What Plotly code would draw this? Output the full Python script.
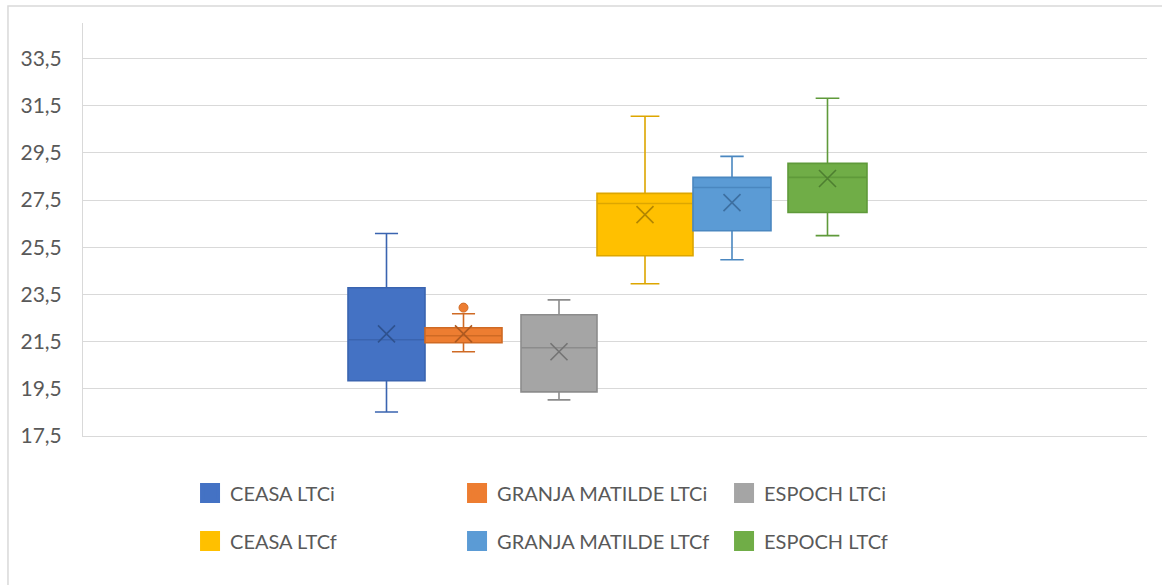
import plotly.graph_objects as go

# Five-number summaries (plus mean) for each site / measurement
series_names = [
    "CEASA LTCi", "GRANJA MATILDE LTCi", "ESPOCH LTCi",
    "CEASA LTCf", "GRANJA MATILDE LTCf", "ESPOCH LTCf",
]
lower_whisker = [18.52, 21.07, 19.03, 23.95, 24.97, 25.99]
q1_values = [19.84, 21.45, 19.37, 25.14, 26.20, 26.97]
median_values = [21.58, 21.75, 21.24, 27.35, 28.03, 28.46]
q3_values = [23.78, 22.09, 22.64, 27.78, 28.46, 29.05]
upper_whisker = [26.08, 22.68, 23.27, 31.05, 29.35, 31.81]
mean_values = [21.83, 21.83, 21.07, 26.88, 27.39, 28.41]

# Outlier points: (series index, value)
outlier_series = [1]
outlier_values = [22.94]

# Y axis ticks
y_tick_start = 17.5
y_tick_step = 2.0

# Styling / placement (horizontal slot of each box on a 0..1064 track)
fill_colors = ["#4472C4", "#ED7D31", "#A5A5A5", "#FFC000", "#5B9BD5", "#70AD47"]
edge_colors = ["#3A64B0", "#CF6A24", "#8C8C8C", "#DDA600", "#4A87C0", "#5F9A3A"]
mark_colors = ["#2F528F", "#AE5A21", "#737373", "#B38600", "#3D6FA0", "#4E7F30"]
slot_centers = [303.5, 380.5, 476.0, 562.0, 649.0, 744.5]
slot_widths = [77, 77, 76, 96, 78, 79]

fig = go.Figure()

for i, name in enumerate(series_names):
    fig.add_trace(go.Box(
        name=name,
        x=[slot_centers[i]],
        q1=[q1_values[i]],
        median=[median_values[i]],
        q3=[q3_values[i]],
        lowerfence=[lower_whisker[i]],
        upperfence=[upper_whisker[i]],
        width=slot_widths[i],
        whiskerwidth=0.3,
        fillcolor=fill_colors[i],
        line=dict(color=edge_colors[i], width=1.6),
        boxpoints=False,
        showlegend=False,
        hoverinfo="skip",
    ))
    # mean marker
    fig.add_trace(go.Scatter(
        x=[slot_centers[i]], y=[mean_values[i]],
        mode="markers",
        marker=dict(symbol="x-thin", size=17,
                    line=dict(width=1.6, color=mark_colors[i])),
        showlegend=False, hoverinfo="skip",
    ))

for s, v in zip(outlier_series, outlier_values):
    fig.add_trace(go.Scatter(
        x=[slot_centers[s]], y=[v],
        mode="markers",
        marker=dict(symbol="circle", size=9, color=fill_colors[s],
                    line=dict(width=1, color=edge_colors[s])),
        showlegend=False, hoverinfo="skip",
    ))

# Legend entries: first row (LTCi) and second row (LTCf)
for i, name in enumerate(series_names):
    fig.add_trace(go.Scatter(
        x=[None], y=[None],
        mode="markers",
        name=name,
        marker=dict(symbol="square", size=16, color=fill_colors[i],
                    line=dict(width=4, color=fill_colors[i])),
        legend="legend" if i < 3 else "legend2",
    ))

legend_font = dict(family="Lato, sans-serif", size=20, color="#595959")

fig.update_layout(
    width=1162, height=585,
    margin=dict(l=83, r=15, t=23, b=149),
    paper_bgcolor="white",
    plot_bgcolor="white",
    separators=",.",
    boxmode="overlay",
    font=dict(family="Lato, sans-serif", color="#595959"),
    xaxis=dict(
        range=[0, 1064], showgrid=False, zeroline=False,
        showticklabels=False, ticks="",
        showline=True, linecolor="#D9D9D9", linewidth=1,
    ),
    yaxis=dict(
        range=[17.5, 35.0],
        tickmode="linear", tick0=y_tick_start, dtick=y_tick_step,
        tickformat=".1f",
        showgrid=True, gridcolor="#D9D9D9", gridwidth=1,
        zeroline=False,
        showline=True, linecolor="#D9D9D9", linewidth=1,
        ticks="", ticklabelstandoff=16,
        tickfont=dict(family="Lato, sans-serif", size=21, color="#595959"),
    ),
    legend=dict(
        orientation="h", x=0.1006, xanchor="left",
        y=-0.138, yanchor="middle",
        entrywidth=222, entrywidthmode="pixels",
        font=legend_font, bgcolor="rgba(0,0,0,0)",
        itemclick=False, itemdoubleclick=False,
    ),
    legend2=dict(
        orientation="h", x=0.1006, xanchor="left",
        y=-0.254, yanchor="middle",
        entrywidth=222, entrywidthmode="pixels",
        font=legend_font, bgcolor="rgba(0,0,0,0)",
        itemclick=False, itemdoubleclick=False,
    ),
    shapes=[dict(
        type="rect", xref="paper", yref="paper",
        x0=-0.0705, x1=1.03, y0=-0.45, y1=1.0412,
        line=dict(color="#D9D9D9", width=1.5),
        fillcolor="rgba(0,0,0,0)", layer="below",
    )],
)

fig.write_html("out.html")
